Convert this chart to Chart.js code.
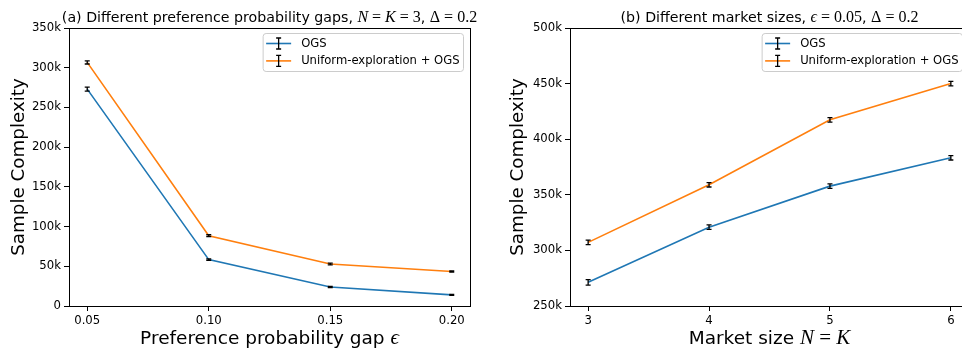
<!DOCTYPE html>
<html><head><meta charset="utf-8">
<script src="https://cdn.jsdelivr.net/npm/chart.js@4.4.1/dist/chart.umd.min.js"></script>
<style>
html,body{margin:0;padding:0;background:#fff;overflow:hidden;}
#wrap{position:relative;width:962px;height:348px;overflow:hidden;background:#fff;}
#c1{position:absolute;left:0;top:0;}
#c2{position:absolute;left:480px;top:0;}
</style></head><body>
<div id="wrap"><canvas id="c1" width="480" height="348"></canvas><canvas id="c2" width="500" height="348"></canvas></div>
<script>
// ---- data: (a) preference probability gaps ----
const gapCategories = [0.05, 0.10, 0.15, 0.20];
const gapTickLabels = ["0.05", "0.10", "0.15", "0.20"];
const gapOGS = [273000, 58400, 23900, 14000];
const gapOGSErr = [2500, 1000, 800, 600];
const gapUniform = [306700, 88500, 52900, 43500];
const gapUniformErr = [2000, 1200, 1200, 800];
const gapYTicks = [0, 50000, 100000, 150000, 200000, 250000, 300000, 350000];
const gapYTickLabels = ["0", "50k", "100k", "150k", "200k", "250k", "300k", "350k"];

// ---- data: (b) market sizes ----
const sizeCategories = [3, 4, 5, 6];
const sizeTickLabels = ["3", "4", "5", "6"];
const sizeOGS = [271300, 320900, 357800, 383300];
const sizeOGSErr = [2500, 2000, 2000, 2000];
const sizeUniform = [307200, 359000, 417400, 450000];
const sizeUniformErr = [2000, 2000, 2000, 2000];
const sizeYTicks = [250000, 300000, 350000, 400000, 450000, 500000];
const sizeYTickLabels = ["250k", "300k", "350k", "400k", "450k", "500k"];

const seriesNames = ["OGS", "Uniform-exploration + OGS"];
const seriesColors = ["#1f77b4", "#ff7f0e"];

const SANS = "'DejaVu Sans'";
const SERIF = "'Liberation Serif','DejaVu Serif',serif";
const sans = (px) => px + "px " + SANS;
const mathI = (px) => "italic " + px + "px " + SERIF;
const mathR = (px) => px + "px " + SERIF;
const TICK_PX = 11.7;
const LEGEND_PX = 11.6;

const titleA = [
  {t: "(a) Different preference probability gaps, ", f: sans(14.2)},
  {t: "N", f: mathI(16)}, {t: " = ", f: mathR(16)}, {t: "K", f: mathI(16)}, {t: " = 3", f: mathR(16)},
  {t: ", ", f: sans(14.2)},
  {t: "Δ", f: mathR(16)}, {t: " = 0.2", f: mathR(16)}
];
const titleB = [
  {t: "(b) Different market sizes, ", f: sans(14.2)},
  {t: "ϵ", f: mathI(16)}, {t: " = 0.05", f: mathR(16)},
  {t: ", ", f: sans(14.2)},
  {t: "Δ", f: mathR(16)}, {t: " = 0.2", f: mathR(16)}
];
const xLabelA = [{t: "Preference probability gap ", f: sans(18.5)}, {t: "ϵ", f: mathI(21)}];
const xLabelB = [{t: "Market size ", f: sans(18.5)}, {t: "N", f: mathI(21)}, {t: " = ", f: mathR(21)}, {t: "K", f: mathI(21)}];
const yLabel = [{t: "Sample Complexity", f: sans(18.3)}];

function drawRich(ctx, segs, cx, baseY, rotate) {
  ctx.save();
  ctx.textBaseline = "alphabetic";
  ctx.textAlign = "left";
  ctx.fillStyle = "#000";
  let w = 0;
  segs.forEach(s => { ctx.font = s.f; w += ctx.measureText(s.t).width; });
  ctx.translate(cx, baseY);
  if (rotate) ctx.rotate(-Math.PI / 2);
  let x = -w / 2;
  segs.forEach(s => { ctx.font = s.f; ctx.fillText(s.t, x, 0); x += ctx.measureText(s.t).width; });
  ctx.restore();
}

const decor = {
  id: "decor",
  afterDatasetsDraw(chart, args, opts) {
    const ctx = chart.ctx;
    const xs = chart.scales.x, ys = chart.scales.y;
    ctx.save();
    ctx.strokeStyle = "#000";
    ctx.lineWidth = 1.3;
    chart.data.datasets.forEach((ds, i) => {
      const errs = opts.errors[i];
      ds.data.forEach((p, j) => {
        const x = xs.getPixelForValue(p.x);
        const y1 = ys.getPixelForValue(p.y - errs[j]);
        const y2 = ys.getPixelForValue(p.y + errs[j]);
        ctx.beginPath();
        ctx.moveTo(x, y1); ctx.lineTo(x, y2);
        ctx.moveTo(x - 2.5, y1); ctx.lineTo(x + 2.5, y1);
        ctx.moveTo(x - 2.5, y2); ctx.lineTo(x + 2.5, y2);
        ctx.stroke();
      });
    });
    ctx.restore();
  },
  afterDraw(chart, args, opts) {
    const ctx = chart.ctx, a = chart.chartArea;
    ctx.save();
    ctx.strokeStyle = "#000";
    ctx.lineWidth = 1;
    ctx.strokeRect(Math.round(a.left) + 0.5, Math.round(a.top) + 0.5, Math.round(a.right - a.left), Math.round(a.bottom - a.top));
    ctx.restore();
    // legend
    ctx.save();
    ctx.font = sans(LEGEND_PX);
    let tw = 0;
    chart.data.datasets.forEach(ds => { tw = Math.max(tw, ctx.measureText(ds.label).width); });
    const bw = 38 + tw + 4, bh = 38;
    const bx = a.right - 7 - bw, by = a.top + 5;
    ctx.fillStyle = "rgba(255,255,255,0.8)";
    ctx.strokeStyle = "#cccccc";
    ctx.lineWidth = 1;
    ctx.beginPath();
    ctx.roundRect(bx + 0.5, by + 0.5, bw, bh, 3);
    ctx.fill(); ctx.stroke();
    chart.data.datasets.forEach((ds, i) => {
      const cy = by + 10.5 + i * 17.4;
      const lx = bx + 3.5;
      ctx.strokeStyle = ds.borderColor;
      ctx.lineWidth = 1.6;
      ctx.beginPath(); ctx.moveTo(lx, cy); ctx.lineTo(lx + 25, cy); ctx.stroke();
      ctx.strokeStyle = "#000";
      ctx.lineWidth = 1.3;
      const mx = lx + 12.5;
      ctx.beginPath();
      ctx.moveTo(mx, cy - 5.5); ctx.lineTo(mx, cy + 5.5);
      ctx.moveTo(mx - 2.5, cy - 5.5); ctx.lineTo(mx + 2.5, cy - 5.5);
      ctx.moveTo(mx - 2.5, cy + 5.5); ctx.lineTo(mx + 2.5, cy + 5.5);
      ctx.stroke();
      ctx.fillStyle = "#000";
      ctx.textBaseline = "middle";
      ctx.fillText(ds.label, bx + 38.5, cy + 0.5);
    });
    ctx.restore();
    const cx = (a.left + a.right) / 2;
    drawRich(ctx, opts.title, cx, 22, false);
    drawRich(ctx, opts.xLabel, cx, 344, false);
    drawRich(ctx, yLabel, opts.yLabelX, (a.top + a.bottom) / 2, true);
  }
};

function makeChart(id, cats, xTicks, xLabels, xMin, xMax, s1, e1, s2, e2, yTicks, yLabels, yMin, yMax, yWidth, padRight, title, xLabel, yLabelX) {
  const pts = (arr) => cats.map((c, i) => ({x: c, y: arr[i]}));
  return new Chart(document.getElementById(id), {
    type: "line",
    data: {
      datasets: [
        {label: seriesNames[0], data: pts(s1), borderColor: seriesColors[0], backgroundColor: seriesColors[0], borderWidth: 1.6, pointRadius: 0, tension: 0, fill: false},
        {label: seriesNames[1], data: pts(s2), borderColor: seriesColors[1], backgroundColor: seriesColors[1], borderWidth: 1.6, pointRadius: 0, tension: 0, fill: false}
      ]
    },
    options: {
      responsive: false,
      animation: false,
      events: [],
      layout: {padding: {left: 0, right: padRight, top: 28, bottom: 0}},
      plugins: {
        legend: {display: false},
        tooltip: {enabled: false},
        decor: {errors: [e1, e2], title: title, xLabel: xLabel, yLabelX: yLabelX}
      },
      scales: {
        x: {
          type: "linear", min: xMin, max: xMax,
          afterBuildTicks: (s) => { s.ticks = xTicks.map(v => ({value: v})); },
          afterFit: (s) => { s.height = 42; },
          ticks: {color: "#000", font: {family: "DejaVu Sans", size: TICK_PX}, padding: 3, maxRotation: 0,
            callback: (v) => { const k = xTicks.indexOf(v); return k >= 0 ? xLabels[k] : ""; }},
          grid: {drawOnChartArea: false, drawTicks: true, tickLength: 5, color: "#000", tickWidth: 1},
          border: {display: false}
        },
        y: {
          type: "linear", min: yMin, max: yMax,
          afterBuildTicks: (s) => { s.ticks = yTicks.map(v => ({value: v})); },
          afterFit: (s) => { s.width = yWidth; },
          ticks: {color: "#000", font: {family: "DejaVu Sans", size: TICK_PX}, padding: 3,
            callback: (v) => { const k = yTicks.indexOf(v); return k >= 0 ? yLabels[k] : ""; }},
          grid: {drawOnChartArea: false, drawTicks: true, tickLength: 5, color: "#000", tickWidth: 1},
          border: {display: false}
        }
      }
    },
    plugins: [decor]
  });
}

makeChart("c1", gapCategories, gapCategories, gapTickLabels, 0.0425, 0.2075,
  gapOGS, gapOGSErr, gapUniform, gapUniformErr, gapYTicks, gapYTickLabels, 0, 350000,
  69, 10, titleA, xLabelA, 23.5);
makeChart("c2", sizeCategories, sizeCategories, sizeTickLabels, 2.85, 6.15,
  sizeOGS, sizeOGSErr, sizeUniform, sizeUniformErr, sizeYTicks, sizeYTickLabels, 250000, 500000,
  90, 11, titleB, xLabelB, 42.7);
</script>
</body></html>
